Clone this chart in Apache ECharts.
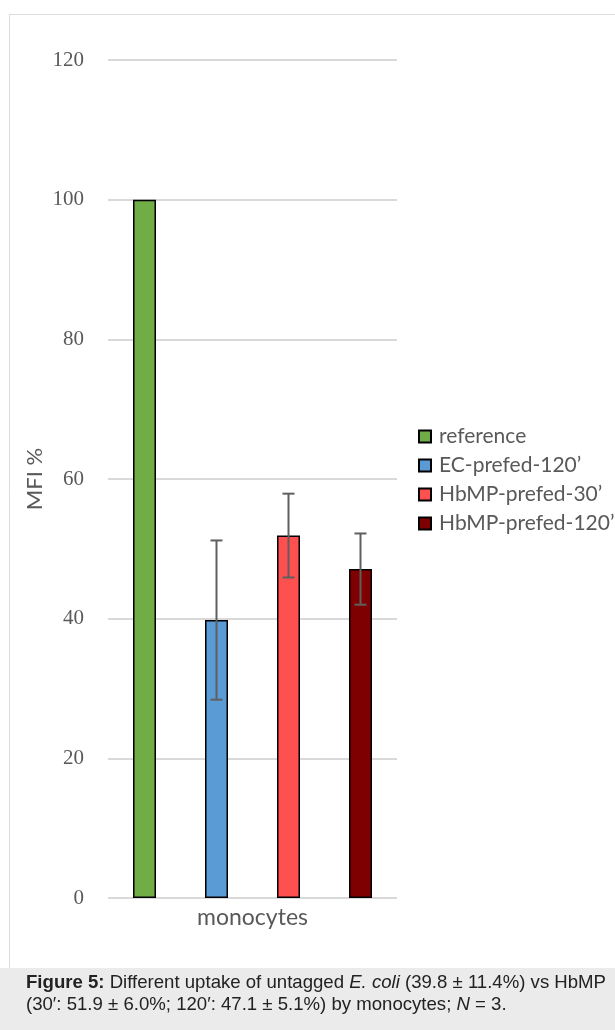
<!DOCTYPE html>
<html>
<head>
<meta charset="utf-8">
<script src="https://cdn.jsdelivr.net/npm/echarts@6/dist/echarts.min.js"></script>
<style>
  html, body { margin: 0; padding: 0; background: #ffffff; }
  #chart { width: 615px; height: 1030px; }
</style>
</head>
<body>
<div id="chart"></div>
<script>
// Uptake of E. coli vs HbMP by monocytes, normalised to the reference (MFI %)
const categories = ['monocytes'];
const seriesNames = ['reference', 'EC-prefed-120’', 'HbMP-prefed-30’', 'HbMP-prefed-120’'];
const meanValues = [100, 39.8, 51.9, 47.1];
const sdValues = [null, 11.4, 6.0, 5.1];
const seriesColors = ['#70ad47', '#5b9bd5', '#ff5050', '#7f0000'];
const yMin = 0, yMax = 120, yStep = 20;

const BAR_WIDTH = 23;
const BAR_GAP = 49 / 23;   // gap between neighbouring bars, as a ratio of bar width
const BAR_STEP = BAR_WIDTH * (1 + BAR_GAP);

const chart = echarts.init(document.getElementById('chart'), null, { renderer: 'canvas' });

const barSeries = seriesNames.map((name, i) => ({
  name: name,
  type: 'bar',
  data: [meanValues[i]],
  barWidth: BAR_WIDTH,
  barGap: (BAR_GAP * 100) + '%',
  itemStyle: { color: seriesColors[i], borderColor: '#000000', borderWidth: 1.5 },
  emphasis: { disabled: true },
  z: 2
}));

// error bars: [category index, low, high, series index]
const errorData = [];
sdValues.forEach((sd, i) => {
  if (sd != null) errorData.push([0, meanValues[i] - sd, meanValues[i] + sd, i]);
});

const errorSeries = {
  type: 'custom',
  name: 'sd',
  data: errorData,
  z: 5,
  silent: true,
  renderItem: function (params, api) {
    const idx = api.value(3);
    const off = (idx - (seriesNames.length - 1) / 2) * BAR_STEP;
    const lo = api.coord([api.value(0), api.value(1)]);
    const hi = api.coord([api.value(0), api.value(2)]);
    const x = lo[0] + off;
    const cap = 6;
    const style = { stroke: '#5f5f5f', lineWidth: 2, fill: null };
    return {
      type: 'group',
      children: [
        { type: 'line', shape: { x1: x, y1: lo[1], x2: x, y2: hi[1] }, style: style },
        { type: 'line', shape: { x1: x - cap, y1: lo[1], x2: x + cap, y2: lo[1] }, style: style },
        { type: 'line', shape: { x1: x - cap, y1: hi[1], x2: x + cap, y2: hi[1] }, style: style }
      ]
    };
  }
};

const option = {
  backgroundColor: '#ffffff',
  animation: false,
  grid: { left: 108, right: 218, top: 60, bottom: 132, containLabel: false },
  legend: {
    data: seriesNames,
    orient: 'vertical',
    left: 413,
    top: 421,
    itemWidth: 12,
    itemHeight: 12,
    itemGap: 8,
    icon: 'rect',
    textStyle: { fontFamily: 'Lato', fontSize: 21, color: '#595959', padding: [0, 0, 0, 3] }
  },
  xAxis: {
    type: 'category',
    data: categories,
    axisLine: { show: false },
    axisTick: { show: false },
    axisLabel: { fontFamily: 'Lato', fontSize: 23, color: '#595959', margin: 8 }
  },
  yAxis: {
    type: 'value',
    min: yMin,
    max: yMax,
    interval: yStep,
    name: 'MFI %',
    nameLocation: 'middle',
    nameGap: 62,
    nameTextStyle: { fontFamily: 'Lato', fontSize: 22, color: '#595959' },
    axisLine: { show: false },
    axisTick: { show: false },
    axisLabel: { fontFamily: 'Liberation Serif', fontSize: 21, color: '#595959', margin: 24 },
    splitLine: { lineStyle: { color: '#d9d9d9', width: 2 } }
  },
  graphic: [
    {
      type: 'rect',
      shape: { x: 9.5, y: 14.5, width: 640, height: 954 },
      style: { fill: null, stroke: '#dcdcdc', lineWidth: 1 },
      silent: true,
      z: -1
    },
    {
      type: 'rect',
      shape: { x: 0, y: 968, width: 615, height: 62 },
      style: { fill: '#ebebeb' },
      silent: true,
      z: -1
    },
    {
      type: 'text',
      left: 26,
      top: 972,
      style: {
        text: '{b|Figure 5:} Different uptake of untagged {i|E. coli} (39.8 ± 11.4%) vs HbMP\n(30′: 51.9 ± 6.0%; 120′: 47.1 ± 5.1%) by monocytes; {i|N} = 3.',
        fontFamily: 'Liberation Sans',
        fontSize: 18.6,
        lineHeight: 22,
        fill: '#222222',
        rich: {
          b: { fontFamily: 'Liberation Sans', fontSize: 18.6, lineHeight: 22, fontWeight: 'bold', fill: '#222222' },
          i: { fontFamily: 'Liberation Sans', fontSize: 18.6, lineHeight: 22, fontStyle: 'italic', fill: '#222222' }
        }
      }
    }
  ],
  series: barSeries.concat([errorSeries])
};

chart.setOption(option);
</script>
</body>
</html>
